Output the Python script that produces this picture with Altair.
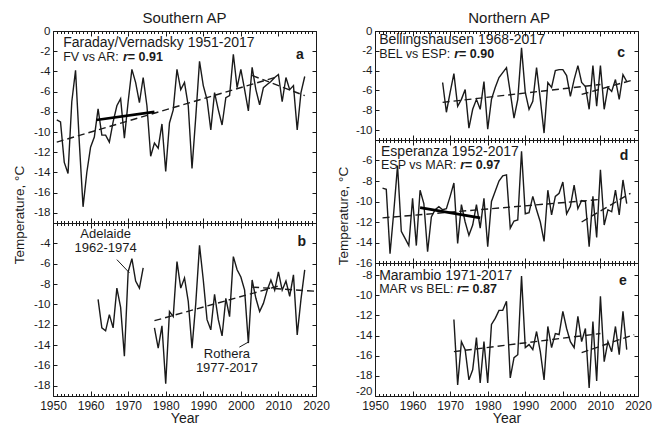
import altair as alt
import pandas as pd

# ---------------- values ----------------
fv_years = list(range(1951, 2018))
fv_temp = [-8.8, -9.0, -13.0, -14.1, -7.0, -3.9, -11.0, -17.4, -14.0, -11.5,
           -10.5, -7.7, -10.3, -10.3, -11.0, -9.0, -7.4, -6.7, -10.6, -7.0,
           -3.8, -5.1, -7.1, -4.6, -7.4, -12.4, -11.1, -11.6, -9.2, -13.9,
           -9.1, -7.8, -3.8, -5.8, -5.1, -7.4, -13.6, -8.5, -3.0, -5.4,
           -6.8, -9.8, -6.1, -7.8, -9.3, -6.6, -6.4, -2.3, -5.6, -3.8,
           -5.8, -7.9, -3.6, -5.8, -7.3, -5.6, -5.3, -5.0, -4.6, -4.3,
           -7.0, -4.6, -5.8, -5.4, -9.8, -6.1, -4.5]

ade_years = list(range(1962, 1975))
ade_temp = [-9.5, -12.3, -12.6, -11.0, -12.3, -8.4, -10.3, -15.1, -6.8, -5.5,
            -7.7, -8.4, -6.4]

rot_years = list(range(1977, 2018))
rot_temp = [-12.3, -14.3, -12.1, -17.8, -10.7, -11.2, -5.8, -8.4, -7.4, -9.7,
            -14.3, -9.9, -4.2, -7.6, -11.5, -12.5, -9.0, -11.5, -13.1, -9.4,
            -11.2, -5.3, -6.6, -7.3, -8.6, -13.8, -7.6, -9.4, -10.7, -9.9,
            -8.6, -7.6, -8.6, -6.8, -8.6, -7.7, -9.2, -7.1, -13.0, -9.5,
            -6.6]

bel_years = list(range(1968, 2018))
bel_temp = [-5.2, -8.2, -6.2, -4.3, -7.6, -6.9, -5.9, -9.8, -7.9, -6.9,
            -7.9, -5.1, -9.9, -6.9, -5.7, -4.7, -4.2, -3.7, -6.2, -8.8,
            -6.9, -1.7, -6.2, -7.9, -7.1, -3.7, -6.9, -10.3, -5.2, -5.7,
            -4.0, -3.9, -3.9, -4.5, -6.6, -4.9, -3.5, -5.2, -5.6, -7.9,
            -3.5, -7.6, -3.5, -7.9, -5.7, -6.1, -4.9, -6.9, -4.4, -5.1]

esp_years = list(range(1952, 2018))
esp_temp = [-8.7, -8.8, -15.1, -11.0, -6.5, -12.9, -13.6, -14.3, -9.7, -14.3,
            -8.9, -10.2, -14.9, -11.5, -10.8, -10.5, -10.8, -10.7, -9.5, -8.2,
            -14.1, -10.3, -12.0, -13.3, -12.3, -10.3, -12.6, -9.7, -14.4, -10.0,
            -9.0, -8.0, -7.5, -7.4, -12.6, -11.9, -11.8, -5.1, -11.2, -11.1,
            -9.5, -10.8, -12.0, -13.9, -8.9, -11.3, -9.5, -9.2, -8.1, -11.2,
            -10.5, -8.4, -10.7, -9.9, -10.0, -14.4, -9.5, -13.5, -6.9, -12.3,
            -10.8, -11.0, -8.9, -11.3, -7.9, -10.2]

mar_years = list(range(1971, 2018))
mar_temp = [-12.4, -18.9, -14.6, -15.4, -18.4, -17.4, -14.2, -18.7, -14.6, -18.7,
            -12.9, -12.3, -11.5, -11.5, -10.6, -18.2, -16.2, -15.9, -8.1, -15.2,
            -14.9, -15.4, -13.6, -15.6, -18.4, -13.1, -15.2, -13.8, -13.9, -11.6,
            -13.3, -14.6, -15.2, -12.1, -14.6, -13.3, -19.2, -12.6, -18.5, -10.1,
            -16.6, -14.6, -15.6, -13.1, -15.9, -11.6, -15.4]

# dashed trend segments (two per panel: whole record and the recent period)
tr_a_x = [1951, 2010, 2003, 2017]
tr_a_y = [-11.0, -4.5, -4.4, -6.4]
tr_b_x = [1977, 2010, 2003, 2019.5]
tr_b_y = [-11.6, -8.2, -8.3, -8.7]
tr_c_x = [1968, 2010, 2005, 2019]
tr_c_y = [-7.2, -5.4, -6.4, -4.9]
tr_d_x = [1952, 2010, 2005, 2018]
tr_d_y = [-11.6, -9.8, -12.0, -9.2]
tr_e_x = [1971, 2010, 2005, 2019]
tr_e_y = [-15.6, -13.8, -15.7, -13.9]
tr_seg = [1, 1, 2, 2]

# solid overlap-period trends
thick_a_x = [1961.5, 1977]
thick_a_y = [-8.8, -8.0]
thick_d_x = [1962, 1978]
thick_d_y = [-10.6, -11.6]

# axis ticks
decades = list(range(1950, 2021, 10))
all_years = list(range(1950, 2021))
yt_a = list(range(0, -19, -2))
yt_b = list(range(-4, -19, -2))
yt_c = list(range(0, -11, -2))
yt_d = list(range(-6, -17, -2))
yt_e = list(range(-8, -21, -2))

# ---------------- styling ----------------
FONT = "Liberation Sans"
INK = "#1a1a1a"
W = 263
XS = alt.Scale(domain=[1950, 2020], nice=False, zero=False)

REG = {' ': 278, 'A': 667, 'B': 667, 'E': 667, 'F': 611, 'L': 556, 'M': 833,
       'P': 667, 'R': 722, 'S': 667, 'V': 667, 'a': 556, 's': 500, 'v': 500,
       ':': 278}


def tw(s, size):
    return sum(REG.get(c, 556) for c in s) / 1000.0 * size


def neg(v):
    return {"expr": str(-v)}


def frame(ydom, yticks, bottom, yflush=False):
    df = pd.DataFrame({"fx": [1950, 2020], "fy": ydom})
    ys = alt.Scale(domain=ydom, nice=False, zero=False)
    base = alt.Chart(df).mark_point(opacity=0, size=1)
    xb = dict(orient="bottom", values=decades, tickSize=neg(5), domain=False,
              grid=False, tickColor=INK, tickWidth=1)
    if bottom:
        xb.update(labels=True, labelExpr="'' + datum.value", labelFont=FONT,
                  labelFontSize=12, labelColor=INK, labelPadding=9,
                  labelOverlap=False, labelFlush=False,
                  title="Year", titleFont=FONT, titleFontSize=14,
                  titleFontWeight="normal", titleColor=INK, titlePadding=0)
    else:
        xb.update(labels=False, title="")
    f1 = base.encode(
        x=alt.X("fx:Q", scale=XS, axis=alt.Axis(**xb)),
        y=alt.Y("fy:Q", scale=ys, axis=alt.Axis(
            orient="left", values=yticks, tickSize=neg(4), domain=False, grid=False,
            labelExpr="'' + datum.value", labelFont=FONT, labelFontSize=11.5,
            labelColor=INK, labelPadding=7, labelOverlap=False, labelFlush=yflush,
            title="", tickColor=INK)))
    f2 = base.encode(
        x=alt.X("fx:Q", scale=XS, axis=alt.Axis(
            orient="bottom", values=all_years, tickSize=neg(2.5), labels=False,
            domain=False, grid=False, title="", tickColor=INK)),
        y=alt.Y("fy:Q", scale=ys, axis=alt.Axis(
            orient="right", values=yticks, tickSize=neg(4), labels=False,
            domain=False, grid=False, title="", tickColor=INK)))
    f3 = base.encode(
        x=alt.X("fx:Q", scale=XS, axis=alt.Axis(
            orient="top", values=decades, tickSize=neg(5), labels=False,
            domain=False, grid=False, title="", tickColor=INK)),
        y=alt.Y("fy:Q", scale=ys, axis=None))
    f4 = base.encode(
        x=alt.X("fx:Q", scale=XS, axis=alt.Axis(
            orient="top", values=all_years, tickSize=neg(2.5), labels=False,
            domain=False, grid=False, title="", tickColor=INK)),
        y=alt.Y("fy:Q", scale=ys, axis=None))
    return [f1, f2, f3, f4], ys


def series(years, vals, ys):
    df = pd.DataFrame({"year": years, "t": vals})
    return alt.Chart(df).mark_line(color=INK, strokeWidth=1.4).encode(
        x=alt.X("year:Q", scale=XS, axis=None),
        y=alt.Y("t:Q", scale=ys, axis=None))


def trend(xs, yv, ys):
    df = pd.DataFrame({"x": xs, "y": yv, "seg": tr_seg})
    return alt.Chart(df).mark_line(color=INK, strokeWidth=1.4, strokeDash=[7, 4]).encode(
        x=alt.X("x:Q", scale=XS, axis=None),
        y=alt.Y("y:Q", scale=ys, axis=None),
        detail="seg:N")


def thick(xs, yv, ys):
    df = pd.DataFrame({"x": xs, "y": yv})
    return alt.Chart(df).mark_line(color="#000000", strokeWidth=2.6).encode(
        x=alt.X("x:Q", scale=XS, axis=None),
        y=alt.Y("y:Q", scale=ys, axis=None))


def label(x, y, s, ys, size=14, weight="normal", style="normal", align="left", dx=0):
    df = pd.DataFrame({"x": [x], "y": [y], "s": [s]})
    return alt.Chart(df).mark_text(
        align=align, baseline="middle", font=FONT, fontSize=size,
        fontWeight=weight, fontStyle=style, color=INK, dx=dx).encode(
        x=alt.X("x:Q", scale=XS, axis=None),
        y=alt.Y("y:Q", scale=ys, axis=None),
        text="s:N")


def header(x, y1, y2, line1, lead, rval, ys, letter, lx, ly):
    s2 = 12.5
    w1 = tw(lead, s2)
    w2 = 389 / 1000.0 * s2
    return [
        label(x, y1, line1, ys, size=14),
        label(x, y2, lead, ys, size=s2),
        label(x, y2, "r", ys, size=s2, weight="bold", style="italic", dx=w1),
        label(x, y2, " = " + rval, ys, size=s2, weight="bold", dx=w1 + w2),
        label(lx, ly, letter, ys, size=14, weight="bold", align="center"),
    ]


def leader(x1, y1, x2, y2, ys):
    df = pd.DataFrame({"x": [x1], "y": [y1], "x2": [x2], "y2": [y2]})
    return alt.Chart(df).mark_rule(color=INK, strokeWidth=1).encode(
        x=alt.X("x:Q", scale=XS, axis=None), y=alt.Y("y:Q", scale=ys, axis=None),
        x2="x2:Q", y2="y2:Q")


def top_title(x, s, ys):
    df = pd.DataFrame({"x": [x], "s": [s]})
    return alt.Chart(df).mark_text(font=FONT, fontSize=15, color=INK, baseline="middle").encode(
        x=alt.X("x:Q", scale=XS, axis=None), y=alt.value(-12.7), text="s:N")


def y_title(xpix, ypix):
    df = pd.DataFrame({"s": ["Temperature, °C"]})
    return alt.Chart(df).mark_text(font=FONT, fontSize=13.5, color=INK, angle=270,
                                   baseline="middle").encode(
        x=alt.value(xpix), y=alt.value(ypix), text="s:N")


def panel(layers, h):
    return alt.layer(*layers).resolve_axis(x="independent", y="independent").properties(
        width=W, height=h)


# panel a
fa, ysa = frame([-19, 0], yt_a, False)
pa = panel(fa + [series(fv_years, fv_temp, ysa), trend(tr_a_x, tr_a_y, ysa),
                 thick(thick_a_x, thick_a_y, ysa)]
           + header(1952.7, -1.2, -2.6, "Faraday/Vernadsky 1951-2017", "FV vs AR: ", "0.91",
                    ysa, "a", 2015.7, -2.4)
           + [top_title(1985, "Southern AP", ysa), y_title(-33.5, 184)], 192)

# panel b
fb, ysb = frame([-19, -2], yt_b, True)
pb = panel(fb + [series(ade_years, ade_temp, ysb), series(rot_years, rot_temp, ysb),
                 trend(tr_b_x, tr_b_y, ysb),
                 label(1964.0, -3.1, "Adelaide", ysb, size=13, align="center"),
                 label(1964.0, -4.5, "1962-1974", ysb, size=13, align="center"),
                 leader(1967.0, -5.6, 1970.35, -6.9, ysb),
                 label(1996.3, -14.85, "Rothera", ysb, size=13, align="center"),
                 label(1996.3, -16.25, "1977-2017", ysb, size=13, align="center"),
                 leader(1999.6, -14.2, 2002.0, -13.7, ysb),
                 label(2016.2, -3.84, "b", ysb, size=14, weight="bold", align="center")], 173)

# panel c
fc, ysc = frame([-11, 0], yt_c, False)
pc = panel(fc + [series(bel_years, bel_temp, ysc), trend(tr_c_x, tr_c_y, ysc)]
           + header(1951.1, -0.95, -2.35, "Bellingshausen 1968-2017", "BEL vs ESP: ", "0.90",
                    ysc, "c", 2015.5, -2.25)
           + [top_title(1985.7, "Northern AP", ysc), y_title(-31.5, 185)], 109)

# panel d
fd, ysd = frame([-16, -4], yt_d, False)
pd_ = panel(fd + [series(esp_years, esp_temp, ysd), trend(tr_d_x, tr_d_y, ysd),
                  thick(thick_d_x, thick_d_y, ysd)]
            + header(1951.6, -5.15, -6.45, "Esperanza 1952-2017", "ESP vs MAR: ", "0.97",
                     ysd, "d", 2016.3, -5.55), 123)

# panel e
fe, yse = frame([-20, -6.8], yt_e, True, yflush=True)
pe = panel(fe + [series(mar_years, mar_temp, yse), trend(tr_e_x, tr_e_y, yse)]
           + header(1951.1, -8.05, -9.35, "Marambio 1971-2017", "MAR vs BEL: ", "0.87",
                    yse, "e", 2016.0, -8.55), 133)

left = alt.vconcat(pa, pb, spacing=0, bounds="flush")
right = alt.vconcat(pc, pd_, pe, spacing=0, bounds="flush")

chart = alt.hconcat(left, right, spacing=6).properties(
    padding={"left": 12, "top": 10, "right": 0, "bottom": 0},
    background="white",
).configure_view(stroke=INK, strokeWidth=1)

chart.save("out.html", embed_options={"renderer": "svg", "actions": False})
